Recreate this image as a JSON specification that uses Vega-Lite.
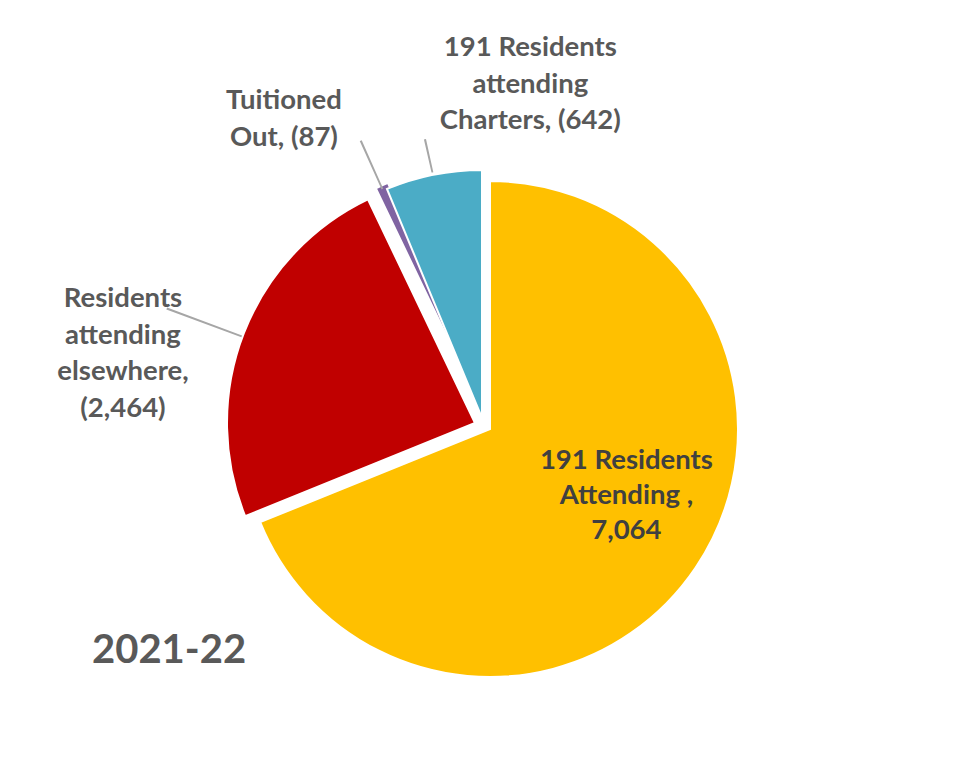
{
  "$schema": "https://vega.github.io/schema/vega-lite/v6.json",
  "autosize": {"type": "none"},
  "width": 942,
  "height": 666,
  "padding": {"left": 19, "top": 96, "right": 0, "bottom": 0},
  "background": "white",
  "config": {"view": {"stroke": null}},
  "title": {
    "text": "2021-22",
    "orient": "bottom",
    "anchor": "start",
    "frame": "group",
    "baseline": "alphabetic",
    "offset": -99,
    "dx": 73,
    "font": "Lato",
    "fontSize": 40,
    "fontWeight": "bold",
    "color": "#595959"
  },
  "data": {
    "values": [
      {"category": "191 Residents Attending", "value": 7064, "rank": 1, "label": "191 Residents\nAttending ,\n7,064"},
      {"category": "Residents attending elsewhere", "value": 2464, "rank": 2, "label": "Residents\nattending\nelsewhere,\n(2,464)"},
      {"category": "Tuitioned Out", "value": 87, "rank": 3, "label": "Tuitioned\nOut, (87)"},
      {"category": "191 Residents attending Charters", "value": 642, "rank": 4, "label": "191 Residents\nattending\nCharters, (642)"}
    ]
  },
  "encoding": {
    "theta": {"field": "value", "type": "quantitative", "stack": true},
    "order": {"field": "rank", "type": "quantitative"},
    "color": {
      "field": "category",
      "type": "nominal",
      "scale": {
        "domain": ["191 Residents Attending", "Residents attending elsewhere", "Tuitioned Out", "191 Residents attending Charters"],
        "range": ["#FFC000", "#C00000", "#8064A2", "#4BACC6"]
      },
      "legend": null
    }
  },
  "layer": [
    {
      "mark": {"type": "arc", "radius": 248, "stroke": "white", "strokeWidth": 2},
      "encoding": {"opacity": {"condition": {"test": "datum.rank === 1", "value": 1}, "value": 0}}
    },
    {
      "mark": {"type": "arc", "radius": 248, "stroke": "white", "strokeWidth": 2, "xOffset": -15, "yOffset": -6},
      "encoding": {"opacity": {"condition": {"test": "datum.rank === 2", "value": 1}, "value": 0}}
    },
    {
      "mark": {"type": "arc", "radius": 248, "stroke": "white", "strokeWidth": 2, "xOffset": -7, "yOffset": -17},
      "encoding": {"opacity": {"condition": {"test": "datum.rank === 3", "value": 1}, "value": 0}}
    },
    {
      "mark": {"type": "arc", "radius": 248, "stroke": "white", "strokeWidth": 2, "xOffset": -8, "yOffset": -11},
      "encoding": {"opacity": {"condition": {"test": "datum.rank === 4", "value": 1}, "value": 0}}
    },
    {
      "transform": [{"stack": "value", "groupby": [], "sort": [{"field": "rank", "order": "ascending"}], "as": ["v0", "v1"]}],
      "mark": {"type": "arc", "radius": 345, "radius2": 265, "thetaOffset": 0.7388, "theta2Offset": 0.7454},
      "encoding": {
        "theta": {"field": "v0", "type": "quantitative"},
        "theta2": {"field": "v0"},
        "order": null,
        "color": {"value": "#A6A6A6"},
        "opacity": {"condition": {"test": "datum.rank === 2", "value": 1}, "value": 0}
      }
    },
    {
      "transform": [{"stack": "value", "groupby": [], "sort": [{"field": "rank", "order": "ascending"}], "as": ["v0", "v1"]}],
      "mark": {"type": "arc", "radius": 316, "radius2": 263, "thetaOffset": 0.02164, "theta2Offset": 0.02854},
      "encoding": {
        "theta": {"field": "v0", "type": "quantitative"},
        "theta2": {"field": "v0"},
        "order": null,
        "color": {"value": "#A6A6A6"},
        "opacity": {"condition": {"test": "datum.rank === 3", "value": 1}, "value": 0}
      }
    },
    {
      "transform": [{"stack": "value", "groupby": [], "sort": [{"field": "rank", "order": "ascending"}], "as": ["v0", "v1"]}],
      "mark": {"type": "arc", "radius": 297, "radius2": 263, "thetaOffset": 0.16895, "theta2Offset": 0.17605},
      "encoding": {
        "theta": {"field": "v0", "type": "quantitative"},
        "theta2": {"field": "v0"},
        "order": null,
        "color": {"value": "#A6A6A6"},
        "opacity": {"condition": {"test": "datum.rank === 4", "value": 1}, "value": 0}
      }
    },
    {
      "mark": {"type": "text", "radius": 150, "dx": 12, "dy": -52, "lineBreak": "\n", "lineHeight": 35, "font": "Lato", "fontSize": 27.5, "fontWeight": "bold", "baseline": "middle", "align": "center"},
      "encoding": {
        "text": {"field": "label"},
        "color": {"value": "#404040"},
        "opacity": {"condition": {"test": "datum.rank === 1", "value": 1}, "value": 0}
      }
    },
    {
      "mark": {"type": "text", "radius": 370, "dx": -22, "dy": 4, "lineBreak": "\n", "lineHeight": 36.5, "font": "Lato", "fontSize": 27.5, "fontWeight": "bold", "baseline": "middle", "align": "center"},
      "encoding": {
        "text": {"field": "label"},
        "color": {"value": "#595959"},
        "opacity": {"condition": {"test": "datum.rank === 2", "value": 1}, "value": 0}
      }
    },
    {
      "mark": {"type": "text", "radius": 368, "dx": -56, "dy": 8, "lineBreak": "\n", "lineHeight": 37, "font": "Lato", "fontSize": 27.5, "fontWeight": "bold", "baseline": "middle", "align": "center"},
      "encoding": {
        "text": {"field": "label"},
        "color": {"value": "#595959"},
        "opacity": {"condition": {"test": "datum.rank === 3", "value": 1}, "value": 0}
      }
    },
    {
      "mark": {"type": "text", "radius": 331, "dx": 105, "dy": -56, "lineBreak": "\n", "lineHeight": 36.5, "font": "Lato", "fontSize": 27.5, "fontWeight": "bold", "baseline": "middle", "align": "center"},
      "encoding": {
        "text": {"field": "label"},
        "color": {"value": "#595959"},
        "opacity": {"condition": {"test": "datum.rank === 4", "value": 1}, "value": 0}
      }
    }
  ]
}
